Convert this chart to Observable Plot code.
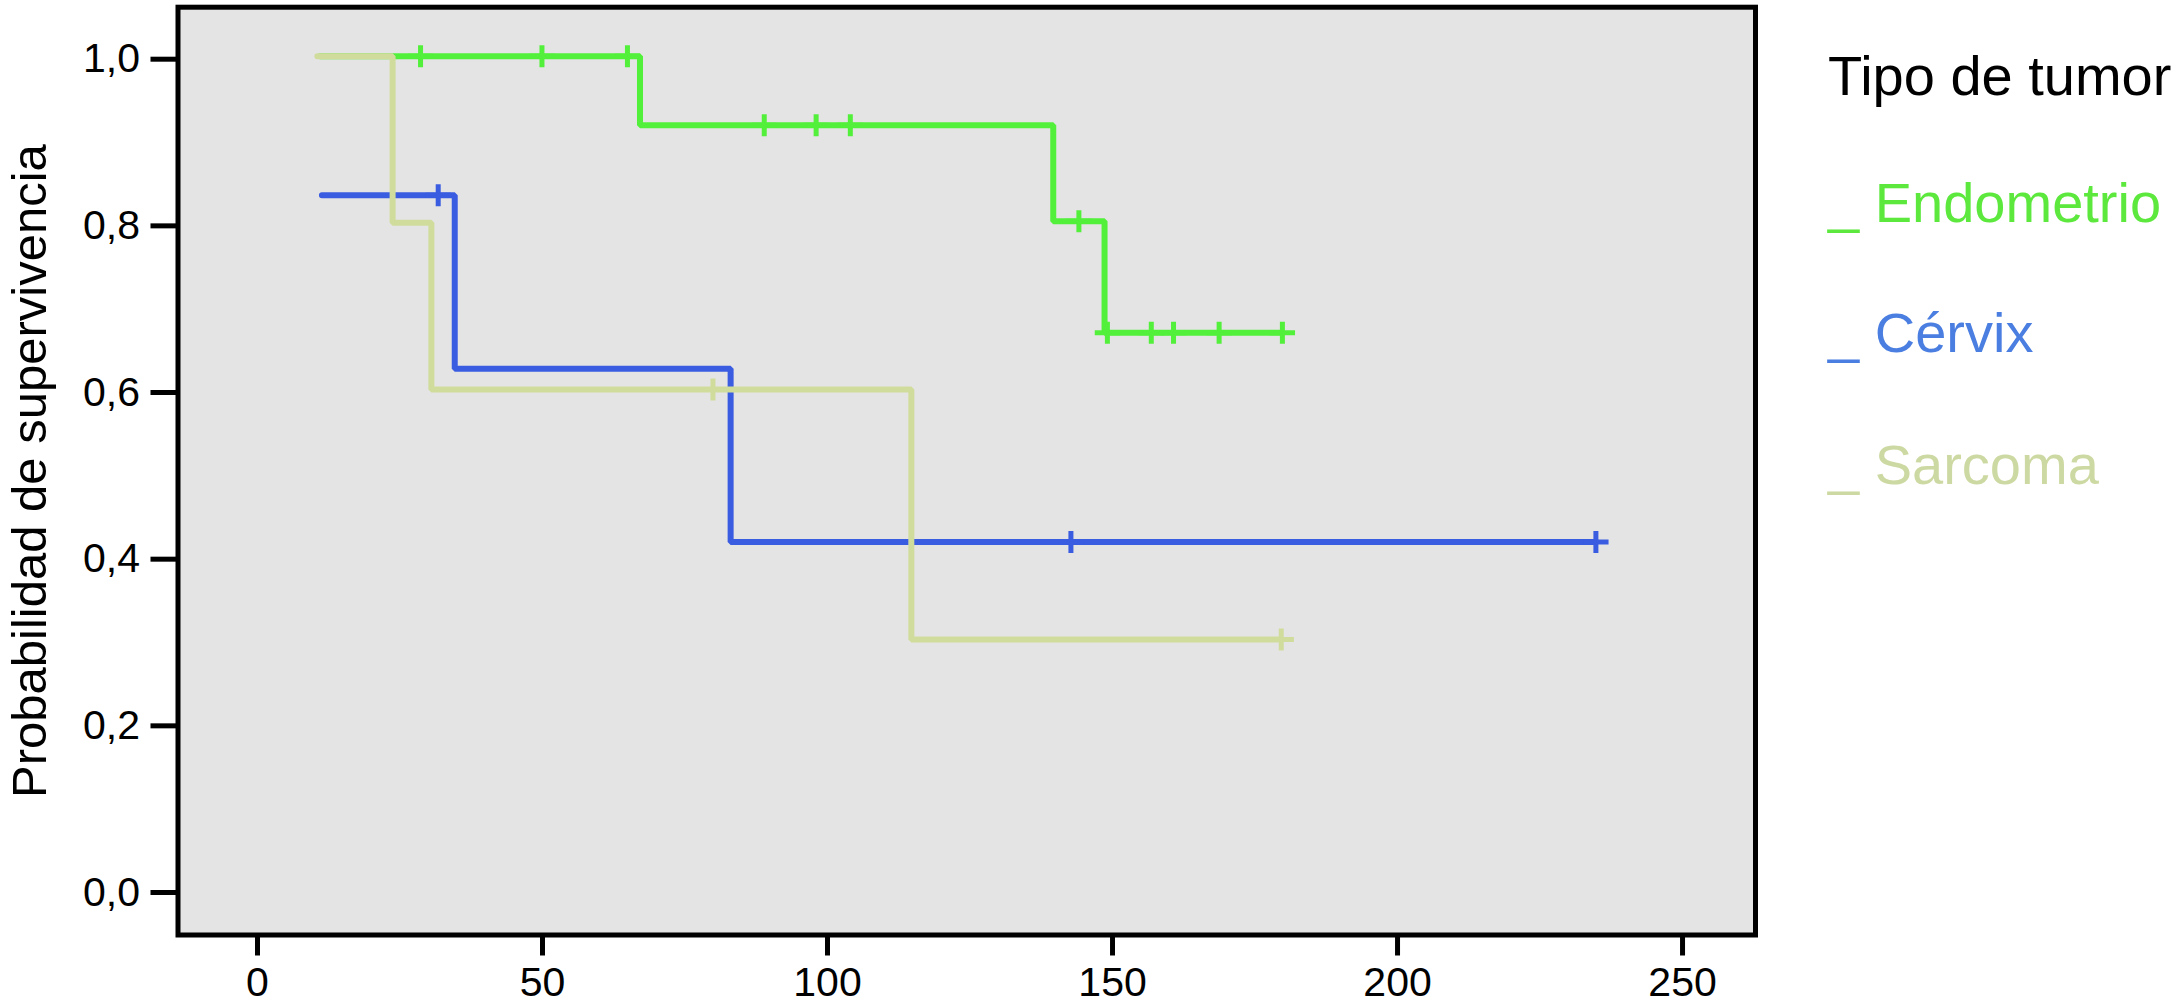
<!DOCTYPE html>
<html><head><meta charset="utf-8">
<script src="https://cdn.jsdelivr.net/npm/d3@7"></script>
<script src="https://cdn.jsdelivr.net/npm/@observablehq/plot@0.6"></script>
<style>
body{margin:0;background:#fff;}
#wrap{position:relative;width:2174px;height:1007px;font-family:"Liberation Sans",Arial,Helvetica,sans-serif;}
.leg{position:absolute;left:1828px;font-size:56px;line-height:56px;white-space:nowrap;}
</style></head><body><div id="wrap"></div>
<script>
// ---- data ----
const groups = ["Endometrio", "Cérvix", "Sarcoma"];
const legendTitle = "Tipo de tumor";
const yTitle = "Probabilidad de supervivencia";
const lineColors = ["#52f03a", "#3a5ce0", "#d0dc9c"];
const legendColors = ["#5ce83c", "#4a7ee0", "#cdd9a2"];
const xTicks = [0, 50, 100, 150, 200, 250];
const yTicks = [0, 0.2, 0.4, 0.6, 0.8, 1.0];

const endometrioTime = [11, 67.1, 139.6, 148.6, 179.8];
const endometrioSurv = [1.0, 0.917, 0.802, 0.668, 0.668];
const cervixTime = [11.3, 34.6, 83.0, 234.8];
const cervixSurv = [0.833, 0.625, 0.417, 0.417];
const sarcomaTime = [10.5, 23.7, 30.5, 114.7, 179.6];
const sarcomaSurv = [1.0, 0.8, 0.6, 0.3, 0.3];

const endometrioCensorTime = [28.6, 49.9, 64.9, 88.9, 98.0, 104.0, 144.1, 149.1, 156.8, 160.7, 168.7, 179.8];
const endometrioCensorSurv = [1.0, 1.0, 1.0, 0.917, 0.917, 0.917, 0.802, 0.668, 0.668, 0.668, 0.668, 0.668];
const cervixCensorTime = [31.7, 142.7, 234.8];
const cervixCensorSurv = [0.833, 0.417, 0.417];
const sarcomaCensorTime = [79.9, 179.6];
const sarcomaCensorSurv = [0.6, 0.3];

// ---- build tables ----
const series = [
  {time: endometrioTime, surv: endometrioSurv, ct: endometrioCensorTime, cs: endometrioCensorSurv},
  {time: cervixTime, surv: cervixSurv, ct: cervixCensorTime, cs: cervixCensorSurv},
  {time: sarcomaTime, surv: sarcomaSurv, ct: sarcomaCensorTime, cs: sarcomaCensorSurv}
];

const censorSymbol = {
  draw(ctx, size) {
    const r = Math.sqrt(size / Math.PI);
    ctx.moveTo(-r * 1.15, 0); ctx.lineTo(r * 1.15, 0);
    ctx.moveTo(0, -r); ctx.lineTo(0, r);
  }
};

const marks = [Plot.frame({fill: "#e4e4e4"})];
series.forEach((s, i) => {
  const pts = s.time.map((t, k) => ({t, s: s.surv[k]}));
  const cens = s.ct.map((t, k) => ({t, s: s.cs[k]}));
  marks.push(Plot.line(pts, {x: "t", y: "s", curve: "step-after", stroke: lineColors[i], strokeWidth: 6, strokeLinejoin: "miter"}));
  marks.push(Plot.dot(cens, {x: "t", y: "s", symbol: censorSymbol, r: 11, stroke: lineColors[i], fill: "none", strokeWidth: 5}));
});
marks.push(Plot.frame({stroke: "black", strokeWidth: 5}));
marks.push(Plot.axisY(yTicks, {tickSize: 27, tickPadding: 11, fontSize: 41, strokeWidth: 5, dy: 3,
  tickFormat: d => d3.format(".1f")(d).replace(".", ","), label: null}));
marks.push(Plot.axisX(xTicks, {tickSize: 21, tickPadding: 11, fontSize: 41, strokeWidth: 5,
  tickFormat: d => String(d), label: null}));
marks.push(Plot.text([yTitle], {frameAnchor: "left", textAnchor: "middle", rotate: -90, dx: -148, fontSize: 49, fill: "black"}));

const chart = Plot.plot({
  width: 2174, height: 1007,
  marginLeft: 177.5, marginRight: 419, marginTop: 6.7, marginBottom: 72.5,
  x: {domain: [-13.95, 262.8]},
  y: {domain: [-0.0546, 1.0588]},
  style: {fontFamily: '"Liberation Sans", Arial, Helvetica, sans-serif', background: "white", color: "black"},
  marks
});
const wrap = document.getElementById("wrap");
wrap.appendChild(chart);

// ---- legend (HTML, to the right of the plot) ----
const legRows = [{text: legendTitle, color: "black", baseline: 95}]
  .concat(groups.map((g, i) => ({text: "_ " + g, color: legendColors[i], baseline: [222, 352, 484][i]})));
legRows.forEach(r => {
  const d = document.createElement("div");
  d.className = "leg";
  d.textContent = r.text;
  d.style.color = r.color;
  d.style.top = (r.baseline - 47.4) + "px";
  wrap.appendChild(d);
});
</script></body></html>
